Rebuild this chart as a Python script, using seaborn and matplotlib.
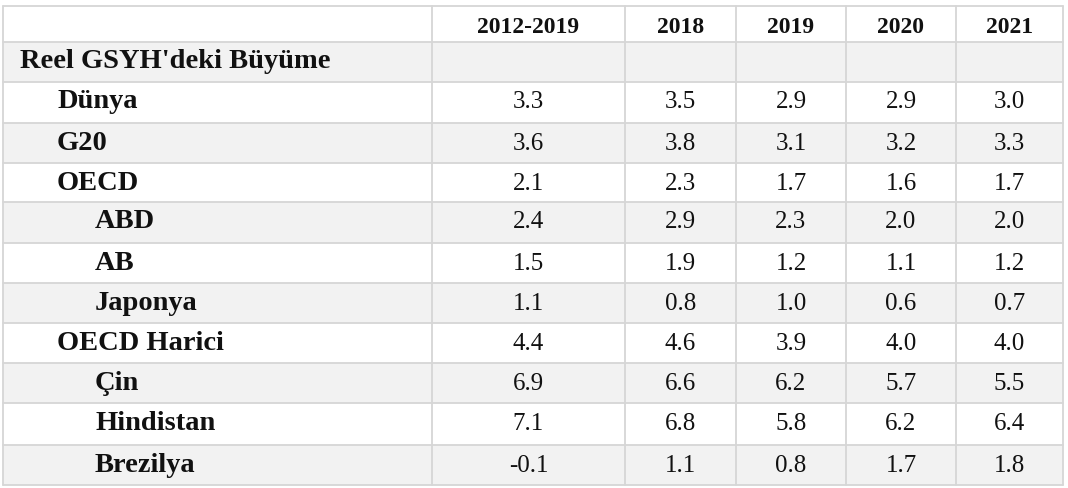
import matplotlib
matplotlib.use("Agg")
import matplotlib.pyplot as plt
import seaborn as sns
from matplotlib.patches import Rectangle

# table content
columns = ["2012-2019", "2018", "2019", "2020", "2021"]
row_labels = ["Reel GSYH'deki Büyüme", "Dünya", "G20", "OECD", "ABD", "AB",
              "Japonya", "OECD Harici", "Çin", "Hindistan", "Brezilya"]
row_levels = [0, 1, 1, 1, 2, 2, 2, 1, 2, 2, 2]
period_2012_2019 = [None, 3.3, 3.6, 2.1, 2.4, 1.5, 1.1, 4.4, 6.9, 7.1, -0.1]
year_2018 = [None, 3.5, 3.8, 2.3, 2.9, 1.9, 0.8, 4.6, 6.6, 6.8, 1.1]
year_2019 = [None, 2.9, 3.1, 1.7, 2.3, 1.2, 1.0, 3.9, 6.2, 5.8, 0.8]
year_2020 = [None, 2.9, 3.2, 1.6, 2.0, 1.1, 0.6, 4.0, 5.7, 6.2, 1.7]
year_2021 = [None, 3.0, 3.3, 1.7, 2.0, 1.2, 0.7, 4.0, 5.5, 6.4, 1.8]
values = [period_2012_2019, year_2018, year_2019, year_2020, year_2021]

sns.set_theme(style="white")
plt.rcParams["font.family"] = ["Liberation Serif", "DejaVu Serif"]

fig = plt.figure(figsize=(10.68, 4.88), dpi=100)
ax = fig.add_axes([0, 0, 1, 1])
ax.set_xlim(0, 1068)
ax.set_ylim(488, 0)
ax.axis("off")

# layout in pixels
col_edges = [3, 432, 625, 736, 846, 956, 1063]
row_edges = [6, 42, 82, 123, 163, 202, 243, 283, 323, 363, 403, 445, 485]
indent = [20, 57, 95]
fill = "#f2f2f2"
line_color = "#d6d6d6"
txt = "#111111"

# shaded rows (every other body row, starting with the first)
for i in range(len(row_labels)):
    if i % 2 == 0:
        top, bot = row_edges[i + 1], row_edges[i + 2]
        ax.add_patch(Rectangle((col_edges[0], top), col_edges[-1] - col_edges[0],
                               bot - top, facecolor=fill, edgecolor="none", zorder=1))

# grid lines
for y in row_edges:
    ax.plot([col_edges[0], col_edges[-1]], [y, y], color=line_color, lw=1.3, zorder=2)
for x in col_edges:
    ax.plot([x, x], [row_edges[0], row_edges[-1]], color=line_color, lw=1.3, zorder=2)

# header
for j, c in enumerate(columns):
    cx = (col_edges[j + 1] + col_edges[j + 2]) / 2
    ax.text(cx, row_edges[0] + 27, c, ha="center", va="baseline", fontsize=17,
            fontweight="bold", color=txt, zorder=3)

# body
for i, label in enumerate(row_labels):
    base = row_edges[i + 1] + 26.5
    ax.text(indent[row_levels[i]], base, label, ha="left", va="baseline", fontsize=20.5,
            fontweight="bold", color=txt, zorder=3)
    for j, series in enumerate(values):
        v = series[i]
        if v is None:
            continue
        cx = (col_edges[j + 1] + col_edges[j + 2]) / 2
        ax.text(cx, base, f"{v:.1f}", ha="center", va="baseline", fontsize=18,
                color=txt, zorder=3)

fig.savefig("out.png", dpi=100)
